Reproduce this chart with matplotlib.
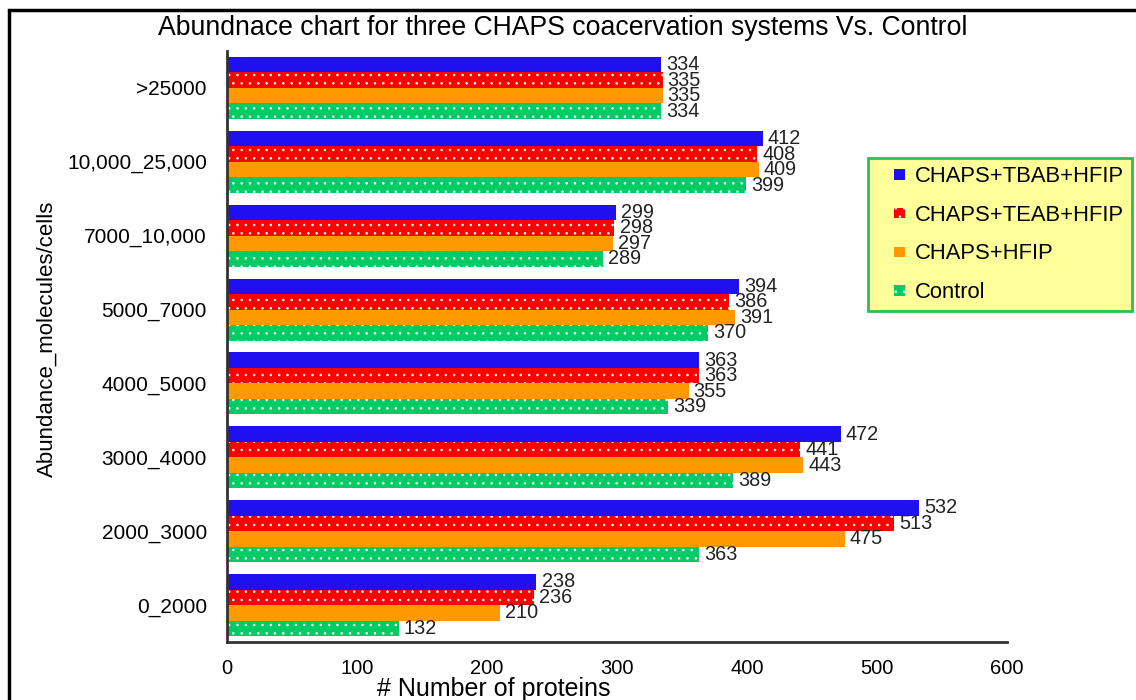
import matplotlib
matplotlib.use("Agg")
import matplotlib.pyplot as plt
from matplotlib.patches import Rectangle, Patch
from matplotlib.legend_handler import HandlerPatch
import numpy as np

plt.rcParams['font.family'] = ['Liberation Sans', 'DejaVu Sans']
plt.rcParams['hatch.linewidth'] = 0.6

categories = ["0_2000", "2000_3000", "3000_4000", "4000_5000", "5000_7000",
              "7000_10,000", "10,000_25,000", ">25000"]
series_names = ["CHAPS+TBAB+HFIP", "CHAPS+TEAB+HFIP", "CHAPS+HFIP", "Control"]
tbab = [238, 532, 472, 363, 394, 299, 412, 334]
teab = [236, 513, 441, 363, 386, 298, 408, 335]
hfip = [210, 475, 443, 355, 391, 297, 409, 335]
control = [132, 363, 389, 339, 370, 289, 399, 334]
xticks = [0, 100, 200, 300, 400, 500, 600]

colors = ["#2010F0", "#FF0000", "#FF9900", "#00CC66"]
hatches = [None, "..", None, ".."]
series = [tbab, teab, hfip, control]

fig = plt.figure(figsize=(11.36, 7.0), dpi=100)
ax = fig.add_axes([227/1136, 1-642/700, (1007-227)/1136, (642-51)/700])

y = np.arange(len(categories))
h = 0.21
offsets = [1.5*h, 0.5*h, -0.5*h, -1.5*h]
for vals, c, ht, off, name in zip(series, colors, hatches, offsets, series_names):
    if ht:
        ax.barh(y + off, vals, height=h, color=c, edgecolor="white",
                linewidth=0, hatch=ht, label=name)
    else:
        ax.barh(y + off, vals, height=h, color=c, linewidth=0, label=name)
    for yy, v in zip(y + off, vals):
        ax.text(v + 4, yy, str(v), va="center", ha="left", fontsize=14.3, color="#222222")

ax.set_xlim(0, 600)
ax.set_ylim(-0.5, 7.5)
ax.set_xticks(xticks)
ax.set_yticks(y)
ax.set_yticklabels(categories)
ax.tick_params(axis="x", length=0, pad=12, labelsize=14.5)
ax.tick_params(axis="y", length=0, pad=14.5, labelsize=15)
for s in ["top", "right"]:
    ax.spines[s].set_visible(False)
for s in ["left", "bottom"]:
    ax.spines[s].set_linewidth(2)
    ax.spines[s].set_color("#333333")

fig.text(563/1136, 1-28/700, "Abundnace chart for three CHAPS coacervation systems Vs. Control",
         ha="center", va="center", fontsize=19.2)
fig.text(494/1136, 1-689/700, "# Number of proteins", ha="center", va="center", fontsize=18)
fig.text(47/1136, 1-339/700, "Abundance_molecules/cells", ha="center", va="center",
         fontsize=16, rotation=90)


def small_square(legend, orig_handle, xdescent, ydescent, width, height, fontsize):
    s = 7.5
    return Rectangle((-xdescent + (width - s) / 2, -ydescent + (height - s) / 2), s, s)


handles = [Patch(facecolor=c, edgecolor="white" if hatches[i] else c, linewidth=0,
                 hatch=hatches[i]) for i, c in enumerate(colors)]
leg = ax.legend(handles, series_names, loc="upper left",
                bbox_to_anchor=(868/1136, 1-158/700), bbox_transform=fig.transFigure,
                fontsize=15.8, handlelength=2.1, handleheight=0.7, handletextpad=-0.35,
                labelspacing=0.8, borderpad=0.38, borderaxespad=0,
                fancybox=False, frameon=True,
                handler_map={Patch: HandlerPatch(patch_func=small_square)})
leg.get_frame().set_facecolor("#FFFF99")
leg.get_frame().set_edgecolor("#33BB55")
leg.get_frame().set_linewidth(2)
leg.get_frame().set_alpha(1)

fig.add_artist(Rectangle((8.5/1136, -0.1), 2, 1.1 - 10.5/700, transform=fig.transFigure,
                         fill=False, lw=2.5, ec="black", clip_on=False))

fig.savefig("out.png", dpi=100)
